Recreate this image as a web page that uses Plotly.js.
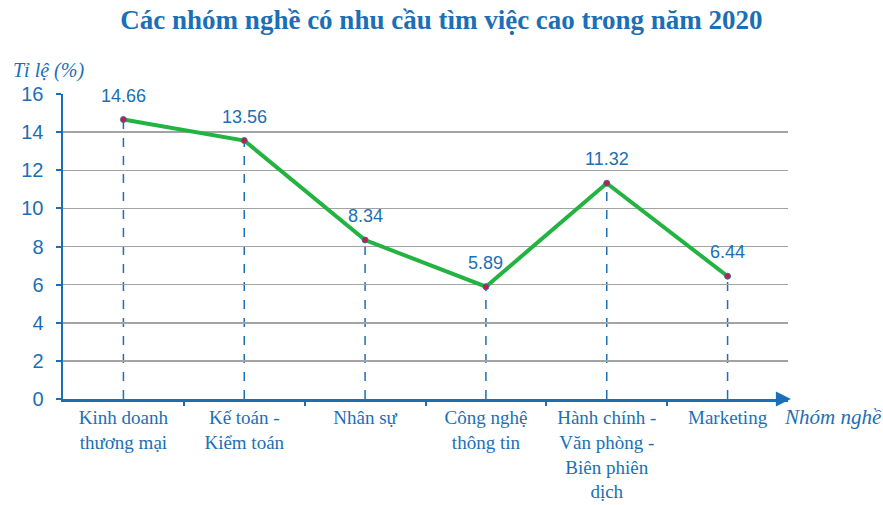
<!DOCTYPE html>
<html>
<head>
<meta charset="utf-8">
<script src="https://cdn.plot.ly/plotly-3.0.1.min.js"></script>
<style>html,body{margin:0;padding:0;background:#fff;}#chart{width:883px;height:505px;}</style>
</head>
<body>
<div id="chart"></div>
<script>
var categories = ["Kinh doanh<br>thương mại", "Kế toán -<br>Kiểm toán", "Nhân sự", "Công nghệ<br>thông tin", "Hành chính -<br>Văn phòng -<br>Biên phiên<br>dịch", "Marketing"];
var values = [14.66, 13.56, 8.34, 5.89, 11.32, 6.44];
var yTicks = [0, 2, 4, 6, 8, 10, 12, 14, 16];

var blue = "#1b6fb6";
var idx = categories.map(function(c, i){ return i; });

var trace = {
  x: idx, y: values, type: "scatter", mode: "lines+markers",
  line: {color: "#22b340", width: 4},
  marker: {color: "#c0203a", size: 6, line: {color: "#3a6fb0", width: 1}},
  hoverinfo: "skip", cliponaxis: false
};

var shapes = values.map(function(v, i){
  return {type: "line", xref: "x", yref: "y", x0: i, x1: i, y0: 0, y1: v,
          line: {color: blue, width: 1.5, dash: "dash"}, layer: "below"};
});

var annotations = values.map(function(v, i){
  return {x: i, y: v, xref: "x", yref: "y", text: v.toFixed(2), showarrow: false,
          yshift: 24, font: {family: "Liberation Sans, Arial", size: 18, color: blue}};
});
annotations.push({xref: "paper", yref: "paper", y: 1, xanchor: "left", yanchor: "bottom",
  x: -0.072, yshift: 10, text: "<i>Tỉ lệ (%)</i>", showarrow: false,
  font: {family: "Liberation Serif, Times New Roman", size: 20, color: blue}});
annotations.push({xref: "paper", yref: "y", x: 1, y: 0, xanchor: "left", yanchor: "top",
  xshift: -6, yshift: -4, text: "<i>Nhóm nghề</i>", showarrow: false,
  font: {family: "Liberation Serif, Times New Roman", size: 21, color: blue}});
// axis arrowheads
annotations.push({xref: "paper", yref: "y", x: 1.004, y: 0, ax: -14, ay: 0, text: "", showarrow: true,
  arrowhead: 2, arrowsize: 1.2, arrowwidth: 2.5, arrowcolor: blue});
annotations.push({xref: "paper", yref: "y", x: 0, y: 16.1, ax: 0, ay: 14, text: "", showarrow: true,
  arrowhead: 2, arrowsize: 1.2, arrowwidth: 2.5, arrowcolor: blue});

var layout = {
  width: 883, height: 505,
  margin: {l: 63, r: 95, t: 94, b: 106},
  paper_bgcolor: "#fff", plot_bgcolor: "#fff",
  showlegend: false,
  title: {text: "<b>Các nhóm nghề có nhu cầu tìm việc cao trong năm 2020</b>",
    x: 0.5, xanchor: "center", y: 0.962, yanchor: "middle",
    font: {family: "Liberation Serif, Times New Roman", size: 27, color: blue}},
  xaxis: {
    type: "linear", range: [-0.5, 5.5], tickmode: "array", tickvals: idx, ticktext: categories,
    showgrid: false, zeroline: false, showline: true, linecolor: blue, linewidth: 2.5,
    ticks: "", tickfont: {family: "Liberation Serif, Times New Roman", size: 19, color: blue},
    fixedrange: true
  },
  xaxis2: {
    overlaying: "x", range: [-0.5, 5.5], tickmode: "array", tickvals: [0.5, 1.5, 2.5, 3.5, 4.5],
    showticklabels: false, ticks: "outside", ticklen: 6, tickwidth: 2, tickcolor: blue,
    showgrid: false, zeroline: false, anchor: "y", side: "bottom"
  },
  yaxis: {
    range: [0, 16], tickmode: "array", tickvals: yTicks, ticktext: yTicks.map(String),
    showgrid: true, gridcolor: "#a3a3a3", gridwidth: 1.5, zeroline: false,
    showline: true, linecolor: blue, linewidth: 2.5, ticks: "outside", ticklen: 5, tickwidth: 2,
    tickcolor: blue, ticklabelstandoff: 8,
    tickfont: {family: "Liberation Sans, Arial", size: 20, color: blue}, fixedrange: true
  },
  shapes: shapes,
  annotations: annotations
};

var dummy = {x: [0], y: [0], xaxis: "x2", type: "scatter", mode: "markers", marker: {opacity: 0}, hoverinfo: "skip"};

Plotly.newPlot("chart", [dummy, trace], layout, {displayModeBar: false, staticPlot: true});
</script>
</body>
</html>
